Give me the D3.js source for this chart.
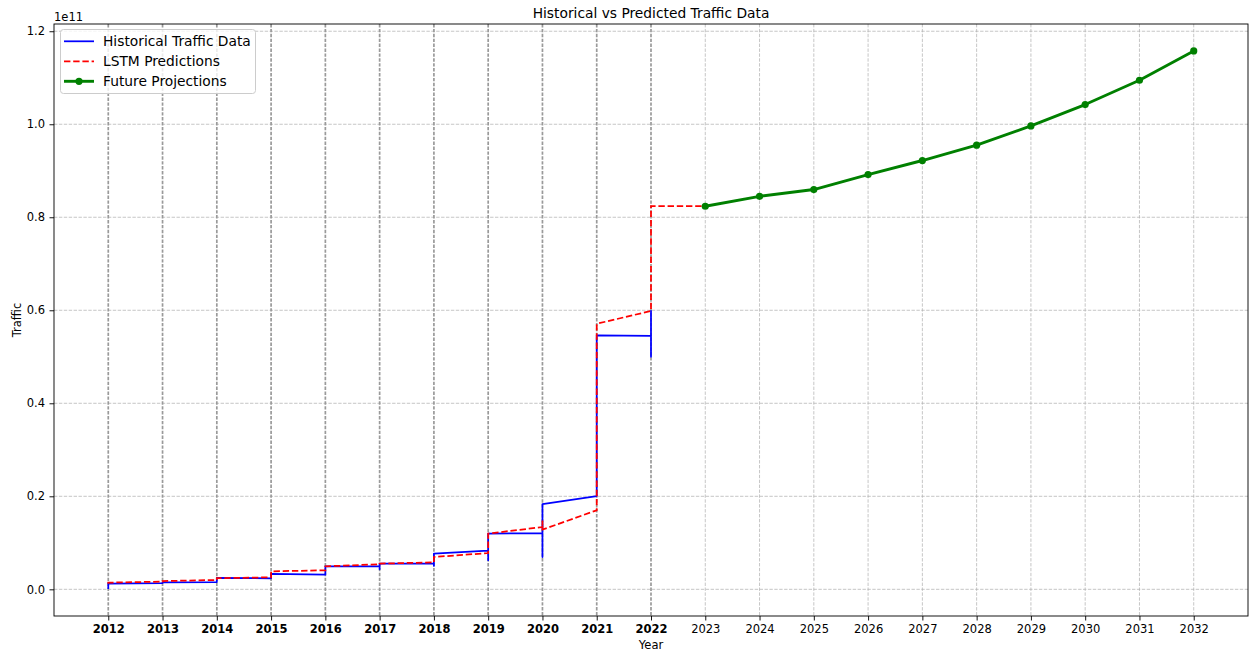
<!DOCTYPE html>
<html>
<head>
<meta charset="utf-8">
<script src="https://cdn.jsdelivr.net/npm/d3@7"></script>
<style>
  body { margin: 0; background: #fff; }
  svg { display: block; }
  text { font-family: "DejaVu Sans", sans-serif; fill: #000; }
</style>
</head>
<body>
<svg id="chart" width="1249" height="657"></svg>
<script>
// Traffic values are in billions (1e9); the axis shows them in units of 1e11.
// Historical readings: several readings share the same year position.
const histYear = [2012, 2012, 2012, 2013, 2013, 2014, 2014, 2015, 2015, 2016, 2016,
                  2017, 2017, 2017, 2018, 2018, 2018, 2019, 2019, 2019,
                  2020, 2020, 2020, 2021, 2021, 2022, 2022, 2022];
const histTraffic = [0.05, 1.35, 1.2, 1.35, 1.5, 1.55, 2.45, 2.37, 3.3, 3.16, 4.95,
                     4.95, 4.3, 5.53, 5.53, 5.05, 7.68, 8.32, 6.24, 11.98,
                     12.1, 6.95, 18.3, 20.06, 54.6, 54.5, 50.0, 60.0];

// LSTM model output on the same yearly positions
const lstmYear = [2012, 2012, 2013, 2013, 2014, 2014, 2015, 2015, 2016, 2016,
                  2017, 2017, 2018, 2018, 2019, 2019, 2020, 2020, 2020,
                  2021, 2021, 2022, 2022, 2023];
const lstmTraffic = [1.2, 1.44, 1.66, 1.78, 2.0, 2.4, 2.58, 3.87, 4.09, 4.95,
                     5.38, 5.53, 5.8, 6.95, 7.8, 11.98, 13.4, 14.8, 12.84,
                     17.0, 57.1, 59.85, 82.4, 82.37];

// Projected traffic for the coming decade
const futureYear = [2023, 2024, 2025, 2026, 2027, 2028, 2029, 2030, 2031, 2032];
const futureTraffic = [82.37, 84.5, 85.96, 89.18, 92.2, 95.5, 99.63, 104.24, 109.46, 115.77];

const yTicks = [0, 20, 40, 60, 80, 100, 120];
const histTickYears = Array.from(new Set(histYear));
const allTickYears = Array.from(new Set(histYear.concat(futureYear)));

const plot = { left: 54, right: 1248, top: 24, bottom: 616 };

const svg = d3.select("#chart");

// Axis limits with 5% padding around the data, like an autoscaled plot
function padded(vals) {
  const lo = d3.min(vals), hi = d3.max(vals), m = (hi - lo) * 0.05;
  return [lo - m, hi + m];
}
const allX = histYear.concat(lstmYear, futureYear);
const allY = histTraffic.concat(lstmTraffic, futureTraffic);

const x = d3.scaleLinear().domain(padded(allX)).range([plot.left, plot.right]);
const y = d3.scaleLinear().domain(padded(allY)).range([plot.bottom, plot.top]);

// Grid
const grid = svg.append("g");
grid.selectAll("line.gy").data(yTicks).join("line")
  .attr("x1", plot.left).attr("x2", plot.right)
  .attr("y1", d => y(d)).attr("y2", d => y(d))
  .attr("stroke", "#b0b0b0").attr("stroke-opacity", 0.8)
  .attr("stroke-width", 0.9).attr("stroke-dasharray", "3.4,1.5");
grid.selectAll("line.gx").data(allTickYears).join("line")
  .attr("x1", d => x(d)).attr("x2", d => x(d))
  .attr("y1", plot.top).attr("y2", plot.bottom)
  .attr("stroke", d => histTickYears.includes(d) ? "#9a9a9a" : "#b0b0b0")
  .attr("stroke-opacity", d => histTickYears.includes(d) ? 1 : 0.8)
  .attr("stroke-width", d => histTickYears.includes(d) ? 1.7 : 0.9)
  .attr("stroke-dasharray", "3.4,1.5");

// Data lines
const line = d3.line().x(d => x(d[0])).y(d => y(d[1]));
const hist = histYear.map((yr, i) => [yr, histTraffic[i]]);
const lstm = lstmYear.map((yr, i) => [yr, lstmTraffic[i]]);
const future = futureYear.map((yr, i) => [yr, futureTraffic[i]]);

svg.append("path").datum(hist).attr("d", line)
  .attr("fill", "none").attr("stroke", "#0000ff").attr("stroke-width", 1.75)
  .attr("stroke-linejoin", "round");
svg.append("path").datum(lstm).attr("d", line)
  .attr("fill", "none").attr("stroke", "#ff0000").attr("stroke-width", 1.75)
  .attr("stroke-dasharray", "6.4,2.8");
svg.append("path").datum(future).attr("d", line)
  .attr("fill", "none").attr("stroke", "#008000").attr("stroke-width", 2.9)
  .attr("stroke-linejoin", "round");
svg.append("g").selectAll("circle").data(future).join("circle")
  .attr("cx", d => x(d[0])).attr("cy", d => y(d[1])).attr("r", 3.6)
  .attr("fill", "#008000");

// Axes frame
svg.append("rect")
  .attr("x", plot.left).attr("y", plot.top)
  .attr("width", plot.right - plot.left).attr("height", plot.bottom - plot.top)
  .attr("fill", "none").attr("stroke", "#000").attr("stroke-width", 0.92);

// X axis
const xAxis = d3.axisBottom(x).tickValues(allTickYears).tickFormat(d3.format("d"))
  .tickSize(4.5).tickPadding(4.5);
const gx = svg.append("g").attr("transform", `translate(0,${plot.bottom})`).call(xAxis);
gx.select(".domain").remove();
gx.selectAll("line").attr("stroke", "#000").attr("stroke-width", 0.92);
gx.selectAll("text")
  .attr("font-size", "11.5px")
  .attr("font-family", "DejaVu Sans, sans-serif")
  .attr("font-weight", d => histTickYears.includes(d) ? "bold" : "normal");

// Y axis
const yAxis = d3.axisLeft(y).tickValues(yTicks).tickFormat(d => (d / 100).toFixed(1))
  .tickSize(4.5).tickPadding(4.5);
const gy = svg.append("g").attr("transform", `translate(${plot.left},0)`).call(yAxis);
gy.select(".domain").remove();
gy.selectAll("line").attr("stroke", "#000").attr("stroke-width", 0.92);
gy.selectAll("text").attr("font-size", "11.5px").attr("font-family", "DejaVu Sans, sans-serif");

// Offset label and axis titles
svg.append("text").attr("x", plot.left).attr("y", 20.5)
  .attr("font-size", "11.5px").text("1e11");
svg.append("text").attr("x", (plot.left + plot.right) / 2).attr("y", 18)
  .attr("text-anchor", "middle").attr("font-size", "13.8px")
  .text("Historical vs Predicted Traffic Data");
svg.append("text").attr("x", (plot.left + plot.right) / 2).attr("y", 649)
  .attr("text-anchor", "middle").attr("font-size", "11.5px").text("Year");
svg.append("text")
  .attr("transform", `translate(21,${(plot.top + plot.bottom) / 2}) rotate(-90)`)
  .attr("text-anchor", "middle").attr("font-size", "11.5px").text("Traffic");

// Legend
const legendItems = [
  { label: "Historical Traffic Data", color: "#0000ff", width: 1.75, dash: null, marker: false },
  { label: "LSTM Predictions", color: "#ff0000", width: 1.75, dash: "6.4,2.8", marker: false },
  { label: "Future Projections", color: "#008000", width: 2.9, dash: null, marker: true }
];
const lg = svg.append("g").attr("transform", "translate(60,29)");
lg.append("rect").attr("x", 0.5).attr("y", 0.5).attr("width", 195).attr("height", 64)
  .attr("rx", 3).attr("ry", 3)
  .attr("fill", "#fff").attr("fill-opacity", 0.8)
  .attr("stroke", "#cccccc").attr("stroke-width", 1);
legendItems.forEach((it, i) => {
  const cy = 12.3 + i * 20;
  const l = lg.append("line").attr("x1", 4).attr("x2", 34).attr("y1", cy).attr("y2", cy)
    .attr("stroke", it.color).attr("stroke-width", it.width);
  if (it.dash) l.attr("stroke-dasharray", it.dash);
  if (it.marker) lg.append("circle").attr("cx", 19).attr("cy", cy).attr("r", 3.6).attr("fill", it.color);
  lg.append("text").attr("x", 43).attr("y", cy + 5).attr("font-size", "13.8px").text(it.label);
});
</script>
</body>
</html>
